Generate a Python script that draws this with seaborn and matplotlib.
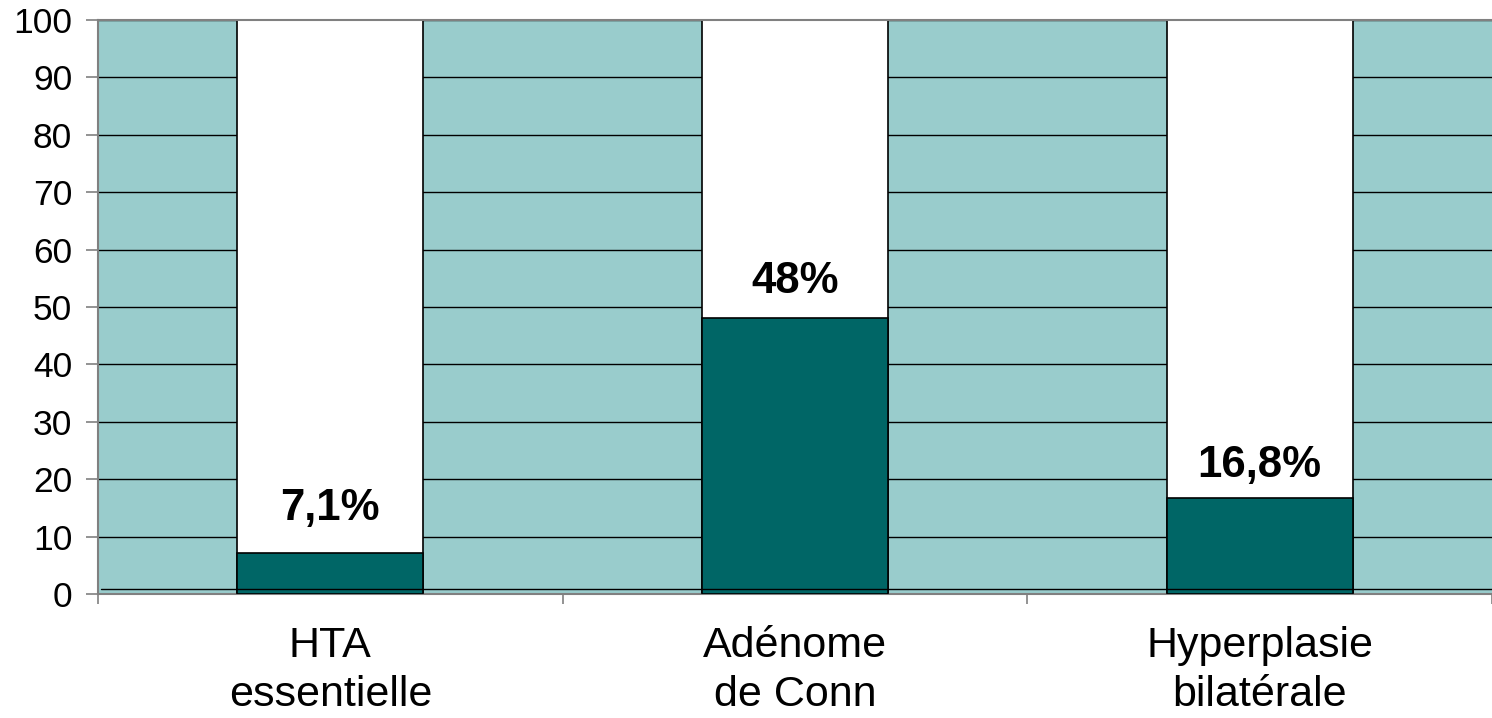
import matplotlib
matplotlib.use("Agg")
import matplotlib.pyplot as plt
import seaborn as sns
import pandas as pd

categories = ["HTA\nessentielle", "Adénome\nde Conn", "Hyperplasie\nbilatérale"]
values = [7.1, 48.0, 16.8]
value_labels = ["7,1%", "48%", "16,8%"]
totals = [100, 100, 100]
y_ticks = list(range(0, 101, 10))

sns.set_theme(style="white")
plt.rcParams["font.family"] = ["Liberation Sans", "DejaVu Sans"]

W, H = 1492, 718
fig = plt.figure(figsize=(W / 100, H / 100), dpi=100)
ax = fig.add_axes([98 / W, 1 - 594 / H, (W - 98) / W, (594 - 20) / H])
ax.set_facecolor("#99CCCC")

df = pd.DataFrame({"cat": categories, "value": values, "total": totals})

# full-height white column, then the proportion drawn over it
sns.barplot(data=df, x="cat", y="total", color="white", width=0.4,
            saturation=1, edgecolor="black", linewidth=1.2, ax=ax, zorder=2)
sns.barplot(data=df, x="cat", y="value", color="#006666", width=0.4,
            saturation=1, edgecolor="black", linewidth=1.2, ax=ax, zorder=3)

ax.set_axisbelow(True)
ax.yaxis.grid(True, color="black", linewidth=1.0)
ax.xaxis.grid(False)
ax.axhline(0.9, color="black", linewidth=1.0, zorder=4, xmin=0.002)

ax.set_ylim(0, 100)
ax.set_xlim(-0.5, 2.5)
ax.set_yticks(y_ticks)
ax.tick_params(axis="y", which="major", left=True, length=8.6, width=1.2,
               color="#808080", pad=10, labelsize=25.5, labelcolor="black")
ax.tick_params(axis="x", which="major", bottom=False, length=0, pad=23,
               labelsize=31, labelcolor="black")
for t in ax.get_xticklabels():
    t.set_linespacing(1.28)
ax.set_xticks([-0.5, 0.5, 1.5, 2.5], minor=True)
ax.tick_params(axis="x", which="minor", bottom=True, length=7.5, width=1.2,
               color="#808080")
ax.set_xlabel("")
ax.set_ylabel("")

for name in ("left", "bottom", "top"):
    ax.spines[name].set_visible(True)
    ax.spines[name].set_color("#808080")
    ax.spines[name].set_linewidth(1.5)
ax.spines["right"].set_visible(False)

label_offsets = [24, 18, 14.5]
for i, (v, lab) in enumerate(zip(values, value_labels)):
    ax.annotate(lab, (i, v), xytext=(0, label_offsets[i]),
                textcoords="offset points", ha="center", va="baseline",
                fontsize=31.5, fontweight="bold", color="black", zorder=5)

fig.savefig("out.png", dpi=100)
